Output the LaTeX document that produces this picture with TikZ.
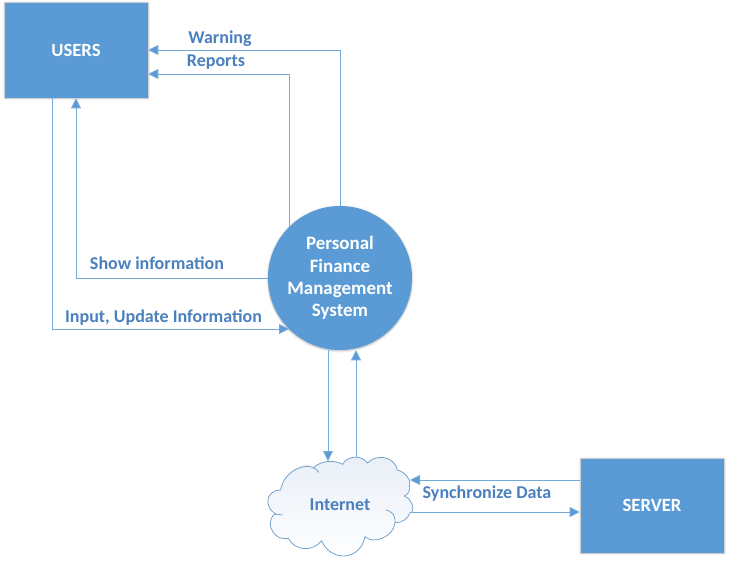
\documentclass[tikz,border=0pt]{standalone}
\usepackage{fontspec}
\setmainfont{Carlito}
\usetikzlibrary{arrows.meta,shadows.blur}
\definecolor{boxblue}{HTML}{5B9BD5}
\definecolor{flowblue}{HTML}{74ABDD}
\definecolor{txtblue}{HTML}{4A80BD}
\definecolor{cloudline}{HTML}{6C9DCB}
\definecolor{cloudtop}{HTML}{E9EEF7}
\tikzset{
  flow/.style={draw=flowblue,line width=.65pt,-{Triangle[length=7.5pt,width=7.5pt,fill=boxblue]}},
  entity/.style={rectangle,fill=boxblue,draw=black!18,line width=.4pt,minimum width=108pt,minimum height=72pt,inner sep=0pt,text=white,font=\bfseries\fontsize{14}{15}\selectfont,blur shadow={shadow blur steps=6,shadow xshift=.4pt,shadow yshift=-.4pt,shadow blur radius=1.2pt,shadow opacity=30}},
  process/.style={circle,fill=boxblue,draw=none,minimum size=108pt,inner sep=0pt,text=white,align=center,font=\bfseries\fontsize{14.2}{16.7}\selectfont,blur shadow={shadow blur steps=6,shadow xshift=0pt,shadow yshift=-.6pt,shadow blur radius=1.5pt,shadow opacity=30}},
  flowlabel/.style={inner sep=0pt,text=txtblue,font=\bfseries\fontsize{13.5}{15}\selectfont},
  cloudedge/.style={draw=cloudline,line width=.55pt}
}
\begin{document}
\begin{tikzpicture}[x=.75pt,y=-.75pt]
\useasboundingbox (0,0) rectangle (729,561);
% cloud
\begin{scope}[shift={(240,340)},x=.25pt,y=-.25pt]
\path[top color=cloudtop,bottom color=white]
 (108,522) .. controls (72,505) and (75,450) .. (122,450)
 .. controls (128,395) and (205,355) .. (222,382)
 .. controls (245,360) and (285,360) .. (308,373)
 .. controls (322,345) and (368,345) .. (382,369)
 .. controls (405,343) and (462,345) .. (472,390)
 .. controls (495,395) and (515,420) .. (508,440)
 .. controls (510,455) and (505,462) .. (493,468)
 .. controls (522,480) and (524,520) .. (510,518)
 .. controls (505,535) and (485,550) .. (465,548)
 .. controls (462,590) and (400,615) .. (375,590)
 .. controls (360,665) and (270,665) .. (245,602)
 .. controls (220,635) and (165,635) .. (145,595)
 .. controls (105,605) and (75,555) .. (100,525) -- cycle;
\path[cloudedge]
 (100,525) .. controls (110,520) and (120,525) .. (128,525)
 (108,522) .. controls (72,505) and (75,450) .. (122,450)
 .. controls (128,395) and (205,355) .. (237,397)
 (222,382) .. controls (245,360) and (285,360) .. (308,373)
 .. controls (322,345) and (368,345) .. (382,369)
 .. controls (405,343) and (462,345) .. (472,390)
 .. controls (495,395) and (515,420) .. (508,440)
 .. controls (510,455) and (505,462) .. (493,468)
 .. controls (522,480) and (524,520) .. (510,518)
 .. controls (505,535) and (485,550) .. (465,548)
 .. controls (468,528) and (455,512) .. (438,510)
 (465,548) .. controls (462,590) and (400,615) .. (375,590)
 .. controls (360,665) and (270,665) .. (245,602)
 .. controls (220,635) and (165,635) .. (145,595)
 .. controls (105,605) and (75,555) .. (100,525);
\end{scope}
\node[flowlabel] (internet) at (340,504.5) {Internet};
\coordinate (cloudN) at (328,461);
\coordinate (cloudNb) at (356,457);
\coordinate (cloudE1) at (410,480);
\coordinate (cloudE2) at (412,512);
% entities
\node[entity] (users) at (76,50) {\raisebox{-.5pt}{USERS}};
\node[entity,minimum height=71.25pt] (server) at (652,505.5) {SERVER};
\node[process] (sys) at (340,278) {\raisebox{0pt}{Personal}\\Finance\\Management\\System};
% waypoints
\coordinate (warnTurn) at (340,50);
\coordinate (repTurn) at (289,74);
\coordinate (showTurn) at (76,278);
\coordinate (inTurn) at (52,329);
\coordinate (repStart) at (289,227);
\coordinate (inEnd) at (289,329);
% connectors
\draw[flow] (sys.north) -- (warnTurn) -- (users.east |- warnTurn);
\draw[flow] (repStart) -- (repTurn) -- (users.east |- repTurn);
\draw[flow] (sys.west) -- (showTurn) -- (users.south -| showTurn);
\draw[flow] (users.south -| inTurn) -- (inTurn) -- (inEnd);
\draw[flow] (sys.south -| cloudN) -- (cloudN);
\draw[flow] (cloudNb) -- (sys.south -| cloudNb);
\draw[flow] (server.west |- cloudE1) -- (cloudE1);
\draw[flow] (cloudE2) -- (server.west |- cloudE2);
% labels
\node[flowlabel] (lw) at (220,38.5) {Warning};
\node[flowlabel] (lr) at (216,62.5) {Reports};
\node[flowlabel] (ls) at (157,263) {Show information};
\node[flowlabel] (li) at (163.5,317.5) {Input, Update Information};
\node[flowlabel] (ly) at (487,494) {Synchronize Data};
\end{tikzpicture}
\end{document}
